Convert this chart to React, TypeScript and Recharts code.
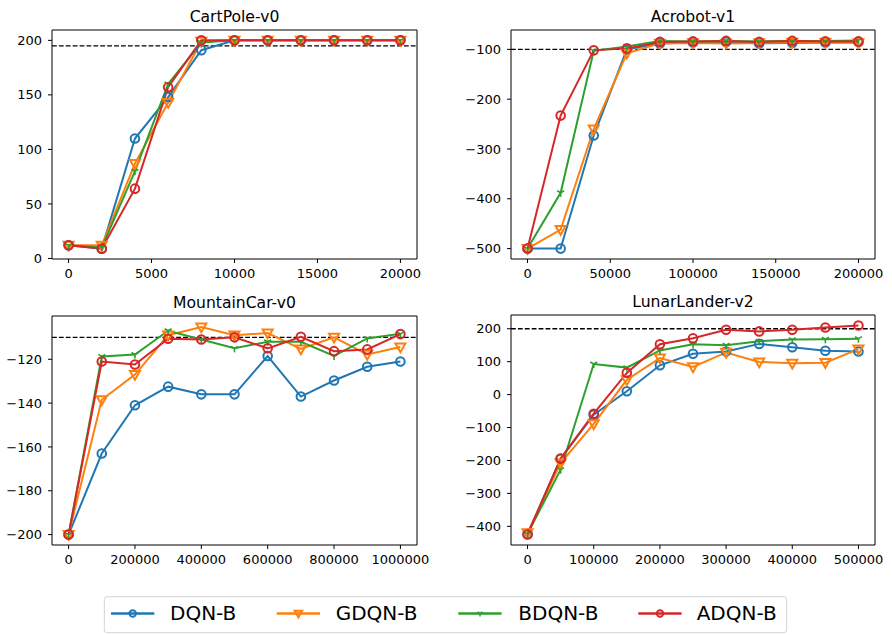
import React from "react";
import { LineChart, Line, XAxis, YAxis, ReferenceLine, ReferenceArea } from "recharts";

// ---------- data ----------
const seriesKeys = ["dqn", "gdqn", "bdqn", "adqn"];
const seriesNames = ["DQN-B", "GDQN-B", "BDQN-B", "ADQN-B"];
const seriesColors = ["#1f77b4", "#ff7f0e", "#2ca02c", "#d62728"];

const cartSteps = [0, 2000, 4000, 6000, 8000, 10000, 12000, 14000, 16000, 18000, 20000];
const cartDQN = [12, 9, 110, 148, 191, 200, 200, 200, 200, 200, 200];
const cartGDQN = [12, 12, 87, 143, 199, 200, 200, 200, 200, 200, 200];
const cartBDQN = [12, 10, 80, 160, 198, 200, 200, 200, 200, 200, 200];
const cartADQN = [12, 9, 64, 157, 200, 200, 200, 200, 200, 200, 200];
const cartXTicks = [0, 5000, 10000, 15000, 20000];
const cartYTicks = [0, 50, 100, 150, 200];

const acroSteps = [0, 20000, 40000, 60000, 80000, 100000, 120000, 140000, 160000, 180000, 200000];
const acroDQN = [-500, -500, -273, -100, -88, -86, -85, -88, -87, -86, -85];
const acroGDQN = [-500, -462, -260, -108, -88, -87, -88, -87, -86, -86, -87];
const acroBDQN = [-500, -388, -103, -94, -83, -84, -83, -84, -83, -83, -82];
const acroADQN = [-500, -233, -102, -98, -85, -84, -83, -85, -83, -84, -84];
const acroXTicks = [0, 50000, 100000, 150000, 200000];
const acroYTicks = [-500, -400, -300, -200, -100];

const mcSteps = [0, 100000, 200000, 300000, 400000, 500000, 600000, 700000, 800000, 900000, 1000000];
const mcDQN = [-200, -163, -141, -132.5, -136, -136, -118.5, -137, -129.7, -123.4, -121];
const mcGDQN = [-200, -138.5, -127, -109, -105.3, -109, -108, -115.3, -110, -117.8, -114.4];
const mcBDQN = [-200, -118.7, -117.8, -107, -111, -115, -112, -112, -118.5, -110.5, -108.4];
const mcADQN = [-200, -121, -122.4, -110.6, -111, -110, -115, -109.7, -116.3, -115.5, -108.5];
const mcXTicks = [0, 200000, 400000, 600000, 800000, 1000000];
const mcYTicks = [-200, -180, -160, -140, -120];

const llSteps = [0, 50000, 100000, 150000, 200000, 250000, 300000, 350000, 400000, 450000, 500000];
const llDQN = [-423, -195, -61, 10, 89, 124, 131, 154, 144, 133, 131];
const llGDQN = [-420, -208, -89, 45, 111, 84, 128, 99, 95, 97, 138];
const llBDQN = [-423, -228, 93, 82, 134, 153, 150, 162, 167, 168, 170];
const llADQN = [-425, -194, -58, 66, 153, 171, 197, 192, 197, 204, 210];
const llXTicks = [0, 100000, 200000, 300000, 400000, 500000];
const llYTicks = [-400, -300, -200, -100, 0, 100, 200];

const titles = ["CartPole-v0", "Acrobot-v1", "MountainCar-v0", "LunarLander-v2"];
const thresholds = [195, -100, -110, 200];

function buildRows(steps: number[], cols: number[][]) {
  return steps.map((s, i) => {
    const row: any = { step: s };
    seriesKeys.forEach((k, j) => (row[k] = cols[j][i]));
    return row;
  });
}

const cartData = buildRows(cartSteps, [cartDQN, cartGDQN, cartBDQN, cartADQN]);
const acroData = buildRows(acroSteps, [acroDQN, acroGDQN, acroBDQN, acroADQN]);
const mcData = buildRows(mcSteps, [mcDQN, mcGDQN, mcBDQN, mcADQN]);
const llData = buildRows(llSteps, [llDQN, llGDQN, llBDQN, llADQN]);

// ---------- markers ----------
const FONT = "'DejaVu Sans', sans-serif";

function Marker({ kind, cx, cy, color, scale = 1 }: any) {
  if (cx == null || cy == null) return null;
  if (kind === 0 || kind === 3) {
    return <circle cx={cx} cy={cy} r={4.3 * scale} fill="none" stroke={color} strokeWidth={2} />;
  }
  if (kind === 1) {
    const w = 5 * scale;
    const h1 = 3.6 * scale;
    const h2 = 5.2 * scale;
    return (
      <polygon
        points={`${cx - w},${cy - h1} ${cx + w},${cy - h1} ${cx},${cy + h2}`}
        fill="none"
        stroke={color}
        strokeWidth={2}
        strokeLinejoin="miter"
      />
    );
  }
  const a = 4 * scale;
  return (
    <g stroke={color} strokeWidth={1.6}>
      <line x1={cx} y1={cy} x2={cx} y2={cy + a} />
      <line x1={cx} y1={cy} x2={cx - a * 0.866} y2={cy - a * 0.5} />
      <line x1={cx} y1={cy} x2={cx + a * 0.866} y2={cy - a * 0.5} />
    </g>
  );
}

const fmt = (v: number) => (v < 0 ? "\u2212" + Math.abs(v) : String(v));

// ---------- panel ----------
function Panel(props: any) {
  const { data, xDomain, xTicks, yDomain, yTicks, threshold, width, height, margin, yW, xH, left, top } = props;
  const tickStyle = { fontSize: 13, fill: "#000", fontFamily: FONT };
  return (
    <div style={{ position: "absolute", left, top, width, height }}>
      <LineChart width={width} height={height} data={data} margin={margin}>
        <XAxis
          dataKey="step"
          type="number"
          domain={xDomain}
          ticks={xTicks}
          interval={0}
          allowDataOverflow
          axisLine={false}
          tickLine={{ stroke: "#000", strokeWidth: 1 }}
          tickSize={4}
          tickMargin={6}
          height={xH}
          tick={tickStyle}
          tickFormatter={fmt}
        />
        <YAxis
          type="number"
          domain={yDomain}
          ticks={yTicks}
          interval={0}
          allowDataOverflow
          axisLine={false}
          tickLine={{ stroke: "#000", strokeWidth: 1 }}
          tickSize={4}
          tickMargin={6}
          width={yW}
          tick={tickStyle}
          tickFormatter={fmt}
        />
        <ReferenceLine y={threshold} stroke="#000" strokeWidth={1.3} strokeDasharray="4.8 2.1" />
        {seriesKeys.map((k, j) => (
          <Line
            key={k}
            dataKey={k}
            stroke={seriesColors[j]}
            strokeWidth={2}
            type="linear"
            isAnimationActive={false}
            dot={(p: any) => (
              <Marker key={`${k}-${p.index}`} kind={j} cx={p.cx} cy={p.cy} color={seriesColors[j]} />
            )}
            activeDot={false}
          />
        ))}
        <ReferenceArea
          x1={xDomain[0]}
          x2={xDomain[1]}
          y1={yDomain[0]}
          y2={yDomain[1]}
          fill="none"
          fillOpacity={0}
          stroke="#000"
          strokeWidth={1}
          strokeOpacity={1}
        />
      </LineChart>
    </div>
  );
}

// panel geometry
const panels = [
  {
    data: cartData, xDomain: [-1000, 21000], xTicks: cartXTicks, yDomain: [-0.5, 209.5], yTicks: cartYTicks,
    left: 0, top: 0, width: 446, height: 285, margin: { top: 30, right: 29, left: 0, bottom: 0 }, yW: 52, xH: 26,
  },
  {
    data: acroData, xDomain: [-10000, 210000], xTicks: acroXTicks, yDomain: [-520.9, -61.1], yTicks: acroYTicks,
    left: 446, top: 0, width: 446, height: 285, margin: { top: 30, right: 17, left: 0, bottom: 0 }, yW: 65, xH: 26,
  },
  {
    data: mcData, xDomain: [-50000, 1050000], xTicks: mcXTicks, yDomain: [-204.75, -100.25], yTicks: mcYTicks,
    left: 0, top: 285, width: 446, height: 290, margin: { top: 31, right: 29, left: 0, bottom: 0 }, yW: 52, xH: 30,
  },
  {
    data: llData, xDomain: [-25000, 525000], xTicks: llXTicks, yDomain: [-456.75, 241.75], yTicks: llYTicks,
    left: 446, top: 285, width: 446, height: 290, margin: { top: 30, right: 17, left: 0, bottom: 0 }, yW: 65, xH: 30,
  },
];

const legendLineX = [111, 276.7, 458.3, 638.3];
const legendTextX = [170, 335.7, 518.3, 696.7];

export default function App() {
  return (
    <div
      style={{
        position: "absolute",
        left: 0,
        top: 0,
        width: 892,
        height: 635,
        background: "#fff",
        fontFamily: FONT,
        overflow: "hidden",
      }}
    >
      {panels.map((p, i) => (
        <Panel key={i} {...p} threshold={thresholds[i]} />
      ))}
      <svg
        width={892}
        height={635}
        style={{ position: "absolute", left: 0, top: 0, pointerEvents: "none" }}
      >
        {panels.map((p, i) => {
          const pl = p.left + p.margin.left + p.yW;
          const pr = p.left + p.width - p.margin.right;
          const pt = p.top + p.margin.top;
          return (
            <text
              key={i}
              x={(pl + pr) / 2}
              y={pt - 8.3}
              textAnchor="middle"
              fontSize={15.6}
              fontFamily={FONT}
              fill="#000"
            >
              {titles[i]}
            </text>
          );
        })}
        <rect x={104.3} y={596.7} width={682.4} height={36} rx={3} ry={3} fill="#fff" stroke="#d4d4d4" strokeWidth={1} />
        {seriesNames.map((n, j) => (
          <g key={n}>
            <line x1={legendLineX[j]} x2={legendLineX[j] + 43.3} y1={613.5} y2={613.5} stroke={seriesColors[j]} strokeWidth={2.6} />
            <Marker kind={j} cx={legendLineX[j] + 21.7} cy={613.5} color={seriesColors[j]} scale={0.75} />
            <text x={legendTextX[j]} y={620.3} fontSize={20} fontFamily={FONT} fill="#000">
              {n}
            </text>
          </g>
        ))}
      </svg>
    </div>
  );
}
